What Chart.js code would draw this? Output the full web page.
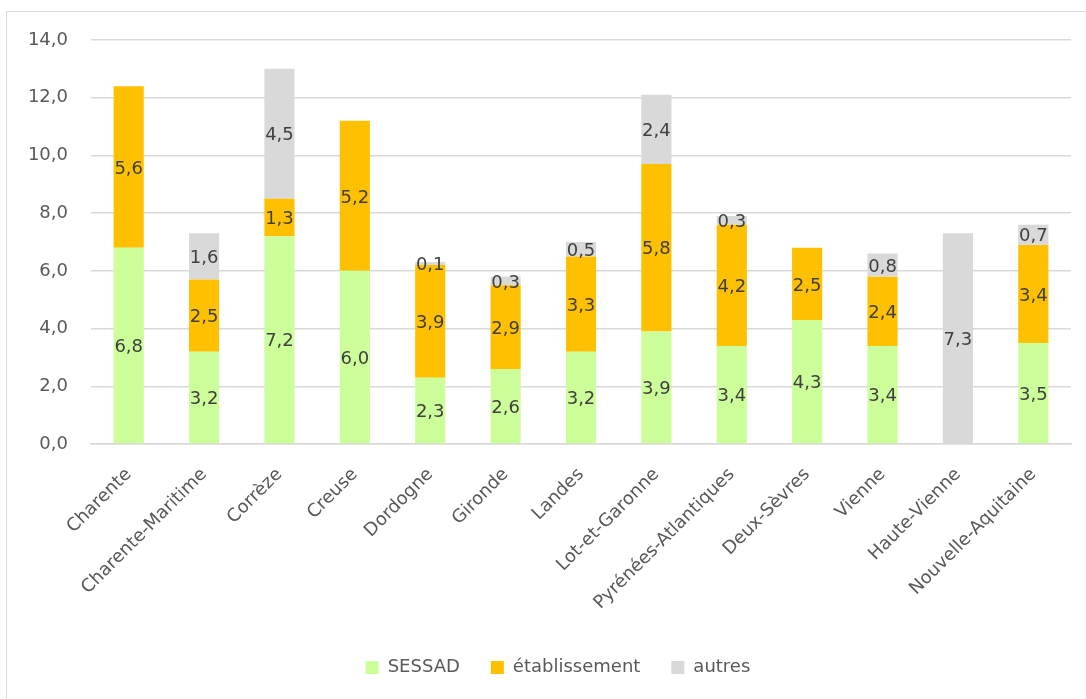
<!DOCTYPE html>
<html>
<head>
<meta charset="utf-8">
<script src="https://cdn.jsdelivr.net/npm/chart.js@4"></script>
<style>
  html, body { margin: 0; padding: 0; background: #fff; overflow: hidden; }
  #frame {
    position: absolute; left: 6px; top: 11px; width: 1120px; height: 700px;
    border: 1.5px solid #d9d9d9; box-sizing: border-box;
  }
  #box { position: absolute; left: 0; top: 0; width: 1080px; height: 688px; }
</style>
</head>
<body>
<div id="frame"><div id="box"><canvas id="chart"></canvas></div></div>
<script>
const departements = ["Charente", "Charente-Maritime", "Corrèze", "Creuse", "Dordogne", "Gironde", "Landes",
    "Lot-et-Garonne", "Pyrénées-Atlantiques", "Deux-Sèvres", "Vienne", "Haute-Vienne", "Nouvelle-Aquitaine"];
const sessad        = [6.8, 3.2, 7.2, 6.0, 2.3, 2.6, 3.2, 3.9, 3.4, 4.3, 3.4, 0,   3.5];
const etablissement = [5.6, 2.5, 1.3, 5.2, 3.9, 2.9, 3.3, 5.8, 4.2, 2.5, 2.4, 0,   3.4];
const autres        = [0,   1.6, 4.5, 0,   0.1, 0.3, 0.5, 2.4, 0.3, 0,   0.8, 7.3, 0.7];

const fmt = v => v.toFixed(1).replace(".", ",");
const FONT = "'DejaVu Sans', sans-serif";

// draw the value in the middle of each segment, like the Excel labels
const valueLabels = {
    id: "valueLabels",
    afterDatasetsDraw(chart) {
        const ctx = chart.ctx;
        ctx.save();
        ctx.font = "18px " + FONT;
        ctx.fillStyle = "#404040";
        ctx.textAlign = "center";
        ctx.textBaseline = "middle";
        chart.data.datasets.forEach((ds, i) => {
            chart.getDatasetMeta(i).data.forEach((bar, j) => {
                const v = ds.data[j];
                if (!v) return;
                ctx.fillText(fmt(v), bar.x, (bar.y + bar.base) / 2 + 2);
            });
        });
        ctx.restore();
    }
};

// the original legend sits a little right of the visible centre
const legendShift = {
    id: "legendShift",
    afterLayout(chart) {
        chart.legend.left += 19;
        chart.legend.right += 19;
    }
};

new Chart(document.getElementById("chart"), {
    type: "bar",
    data: {
        labels: departements,
        datasets: [
            { label: "SESSAD", data: sessad, backgroundColor: "#ccff99" },
            { label: "établissement", data: etablissement, backgroundColor: "#ffc000" },
            { label: "autres", data: autres, backgroundColor: "#d9d9d9" }
        ]
    },
    options: {
        responsive: true,
        maintainAspectRatio: false,
        animation: false,
        layout: { padding: { top: 28, right: 16, left: 0, bottom: 13.5 } },
        datasets: { bar: { categoryPercentage: 1, barPercentage: 0.4 } },
        plugins: {
            tooltip: { enabled: false },
            legend: {
                position: "bottom",
                labels: {
                    color: "#595959", font: { size: 18, family: FONT },
                    boxWidth: 13, boxHeight: 13, padding: 31
                }
            }
        },
        scales: {
            x: {
                stacked: true,
                grid: { display: false },
                border: { color: "#d9d9d9", width: 1.5 },
                ticks: { color: "#595959", font: { size: 18, family: FONT }, minRotation: 45, maxRotation: 45, autoSkip: false, padding: 12 },
                afterFit: s => { s.height = 183.5; }
            },
            y: {
                stacked: true, min: 0, max: 14,
                grid: { color: "#d9d9d9", lineWidth: 1.5, drawTicks: false },
                border: { display: false },
                ticks: { stepSize: 2, color: "#595959", font: { size: 18, family: FONT }, padding: 23, callback: v => fmt(v) },
                afterFit: s => { s.width = 84; s.paddingTop = 10; s.paddingBottom = 10; }
            }
        }
    },
    plugins: [valueLabels, legendShift]
});
</script>
</body>
</html>
